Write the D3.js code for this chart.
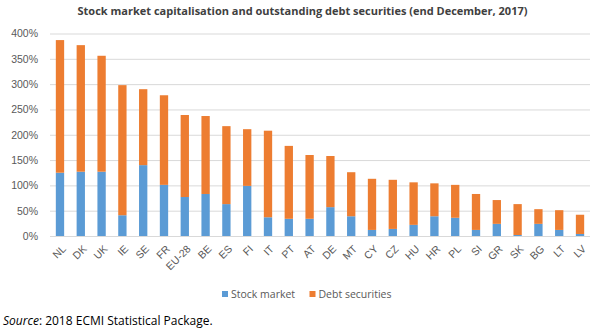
<!DOCTYPE html>
<html>
<head>
<meta charset="utf-8">
<script src="https://cdn.jsdelivr.net/npm/d3@7"></script>
<style>
  body { margin: 0; background: #fff; }
  svg { display: block; font-family: "Open Sans", "Liberation Sans", sans-serif; }
</style>
</head>
<body>
<div id="chart"></div>
<script>
// Countries, in the order shown
const countries = ["NL", "DK", "UK", "IE", "SE", "FR", "EU-28", "BE", "ES", "FI", "IT", "PT", "AT",
    "DE", "MT", "CY", "CZ", "HU", "HR", "PL", "SI", "GR", "SK", "BG", "LT", "LV"];

// Stock market capitalisation (% of GDP)
const stockMarket = [125, 127, 127, 41, 140, 101, 77, 83, 63, 99, 37, 34, 34,
    57, 39, 12, 14, 22, 39, 36, 12, 24, 2, 24, 12, 4];

// Outstanding debt securities (% of GDP)
const debtSecurities = [262, 250, 229, 257, 150, 177, 162, 154, 154, 112, 171, 144, 126,
    101, 87, 101, 97, 84, 65, 65, 71, 47, 61, 29, 39, 38];

const yTicks = [0, 50, 100, 150, 200, 250, 300, 350, 400];

const seriesNames = ["Stock market", "Debt securities"];
const seriesColors = ["#5B9BD5", "#ED7D31"];

const W = 596, H = 331;
const margin = { top: 33.5, right: 6, bottom: 95, left: 50 };
const width = W - margin.left - margin.right;
const height = H - margin.top - margin.bottom;

const svg = d3.select("#chart").append("svg")
    .attr("width", W)
    .attr("height", H);

// Title
svg.append("text")
    .attr("x", 302.5)
    .attr("y", 14.5)
    .attr("text-anchor", "middle")
    .style("font-size", "11px")
    .style("font-weight", "bold")
    .style("fill", "#404040")
    .text("Stock market capitalisation and outstanding debt securities (end December, 2017)");

const g = svg.append("g")
    .attr("transform", `translate(${margin.left}, ${margin.top})`);

const xScale = d3.scaleBand()
    .domain(countries)
    .range([0, width])
    .paddingInner(0.6)
    .paddingOuter(0.28);

const yScale = d3.scaleLinear()
    .domain([0, 400])
    .range([height, 0]);

// Gridlines + y labels
const yAxis = d3.axisLeft(yScale)
    .tickValues(yTicks)
    .tickSize(-width)
    .tickPadding(12)
    .tickFormat(d => d + "%");

g.append("g")
    .call(yAxis)
    .call(a => a.select(".domain").remove())
    .call(a => a.selectAll(".tick line").attr("stroke", "#d9d9d9"))
    .call(a => a.selectAll(".tick text")
        .style("font-size", "10.5px")
        .style("fill", "#595959"));

// Stacked bars
const tableData = countries.map((c, i) => ({ country: c, stock: stockMarket[i], debt: debtSecurities[i] }));
const stacked = d3.stack().keys(["stock", "debt"])(tableData);

g.selectAll("g.series")
    .data(stacked)
    .enter()
    .append("g")
    .attr("class", "series")
    .attr("fill", (d, i) => seriesColors[i])
    .selectAll("rect")
    .data(d => d)
    .enter()
    .append("rect")
    .attr("x", d => xScale(d.data.country))
    .attr("y", d => yScale(d[1]))
    .attr("width", xScale.bandwidth())
    .attr("height", d => yScale(d[0]) - yScale(d[1]));

// X axis labels, rotated
const xAxis = d3.axisBottom(xScale).tickSize(0).tickPadding(0);
g.append("g")
    .attr("transform", `translate(0, ${height})`)
    .call(xAxis)
    .call(a => a.select(".domain").remove())
    .call(a => a.selectAll(".tick text")
        .attr("text-anchor", "end")
        .attr("dy", "0.35em")
        .attr("transform", "translate(4, 11) rotate(-45)")
        .style("font-size", "10.5px")
        .style("fill", "#595959"));

// Legend
const legend = svg.append("g").attr("transform", "translate(222, 294)");
const legendX = [0, 87.5];
seriesNames.forEach((name, i) => {
    legend.append("rect")
        .attr("x", legendX[i])
        .attr("y", -3)
        .attr("width", 6)
        .attr("height", 6)
        .attr("fill", seriesColors[i]);
    legend.append("text")
        .attr("x", legendX[i] + 9)
        .attr("y", 0)
        .attr("dy", "0.35em")
        .style("font-size", "10.5px")
        .style("fill", "#595959")
        .text(name);
});

// Source note
const source = svg.append("text")
    .attr("x", 3)
    .attr("y", 325)
    .style("font-size", "12px")
    .style("fill", "#000");
source.append("tspan").style("font-style", "italic").text("Source");
source.append("tspan").text(": 2018 ECMI Statistical Package.");
</script>
</body>
</html>
